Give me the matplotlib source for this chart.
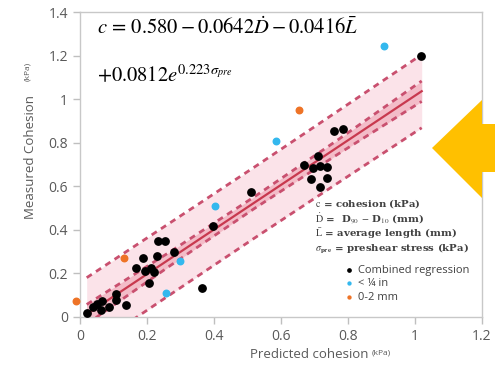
import numpy as np
import matplotlib.pyplot as plt
from matplotlib.patches import Polygon

plt.rcParams["mathtext.fontset"] = "stix"

# Measured vs predicted cohesion (kPa)
black_x = [0.020, 0.040, 0.050, 0.066, 0.063, 0.087, 0.108, 0.108, 0.136,
           0.167, 0.189, 0.194, 0.213, 0.220, 0.206, 0.231, 0.233, 0.253, 0.280,
           0.365, 0.397, 0.511,
           0.670, 0.695, 0.717, 0.737, 0.690, 0.737, 0.715, 0.710, 0.757, 0.784, 1.017]
black_y = [0.020, 0.046, 0.061, 0.074, 0.031, 0.046, 0.077, 0.107, 0.055,
           0.224, 0.273, 0.209, 0.227, 0.205, 0.158, 0.278, 0.347, 0.347, 0.300,
           0.132, 0.419, 0.573,
           0.700, 0.685, 0.695, 0.690, 0.634, 0.639, 0.599, 0.737, 0.852, 0.865, 1.198]
blue_x = [0.256, 0.298, 0.402, 0.584, 0.908]
blue_y = [0.109, 0.255, 0.508, 0.806, 1.245]
orange_x = [-0.012, 0.132, 0.655]
orange_y = [0.074, 0.270, 0.949]

# regression line and band half-widths
fit_intercept = -0.008
fit_slope = 1.024
band_x = [0.02, 0.27, 0.52, 0.77, 1.02]
conf_half = [0.045, 0.032, 0.027, 0.033, 0.047]
pred_half = [0.168, 0.165, 0.163, 0.165, 0.168]

xticks = [0, 0.2, 0.4, 0.6, 0.8, 1, 1.2]
yticks = [0, 0.2, 0.4, 0.6, 0.8, 1, 1.2, 1.4]

fig = plt.figure(figsize=(4.95, 3.67), dpi=100)
ax = fig.add_axes([80 / 495, 1 - 317 / 367, 402 / 495, 305 / 367])

bx = np.array(band_x)
fit = fit_intercept + fit_slope * bx
ci = np.array(conf_half)
pi = np.array(pred_half)

ax.fill_between(bx, fit - pi, fit + pi, color="#FBE3E9", lw=0, zorder=1)
ax.fill_between(bx, fit - ci, fit + ci, color="#F3BCC8", lw=0, zorder=2)
for lo_hi in (fit - pi, fit + pi, fit - ci, fit + ci):
    ax.plot(bx, lo_hi, color="#C9506F", lw=2, ls=(0, (2.2, 1.8)), zorder=3)
ax.plot(bx, fit, color="#C8394F", lw=1.6, zorder=4)

ax.scatter(black_x, black_y, s=28, color="black", zorder=5, label="Combined regression")
ax.scatter(blue_x, blue_y, s=22, color="#33B8EE", zorder=5, label="< ¼ in", clip_on=False)
ax.scatter(orange_x, orange_y, s=22, color="#EE7326", zorder=5, label="0-2 mm", clip_on=False)

ax.set_xlim(0, 1.2)
ax.set_ylim(0, 1.4)
ax.set_xticks(xticks)
ax.set_xticklabels(["0", "0.2", "0.4", "0.6", "0.8", "1", "1.2"])
ax.set_yticks(yticks)
ax.set_yticklabels(["0", "0.2", "0.4", "0.6", "0.8", "1", "1.2", "1.4"])
ax.tick_params(colors="#BFBFBF", labelcolor="#595959", labelsize=10, length=5, width=1)
for lab in ax.get_xticklabels() + ax.get_yticklabels():
    lab.set_family("Open Sans")
for sp in ax.spines.values():
    sp.set_color("#C8C8C8")
    sp.set_linewidth(1)

# axis labels with the smaller unit text
fig.text(368 / 495, 1 - 355 / 367, "Predicted cohesion", ha="right", va="center",
         fontsize=9.5, color="#595959", family="Open Sans")
fig.text(372 / 495, 1 - 353 / 367, "(kPa)", ha="left", va="center",
         fontsize=6, color="#595959", family="Open Sans")
fig.text(30 / 495, 1 - 157 / 367, "Measured Cohesion", ha="center", va="center",
         rotation=90, fontsize=9.5, color="#595959", family="Open Sans")
fig.text(28 / 495, 1 - 71 / 367, "(kPa)", ha="center", va="center",
         rotation=90, fontsize=6, color="#595959", family="Open Sans")

# model equation
ax.text(0.05, 1.33, r"$c\,=\,0.580-0.0642\dot{D}-0.0416\bar{L}$",
        fontsize=14.8, va="center", ha="left", color="black")
ax.text(0.05, 1.11, r"$+0.0812e^{0.223\sigma_{pre}}$",
        fontsize=14.8, va="center", ha="left", color="black")

defs = [r"$\mathrm{c}$ = cohesion (kPa)",
        r"$\dot{\mathrm{D}}$ =  D$_{90}$ $-$ D$_{10}$ (mm)",
        r"$\bar{\mathrm{L}}$ = average length (mm)",
        r"$\sigma_{\mathbf{pre}}$ = preshear stress (kPa)"]
for i, s in enumerate(defs):
    fig.text(315 / 495, 1 - (204 + i * 15) / 367, s, ha="left", va="center",
             fontsize=7.3, color="#404040", family="DejaVu Serif", weight="bold")

leg = ax.legend(loc="lower right", bbox_to_anchor=(0.985, 0.025), frameon=False,
                prop={"family": "Open Sans", "size": 8}, markerscale=0.45,
                handletextpad=0.2, labelspacing=0.22, handlelength=1.2, borderaxespad=0.2)
for t in leg.get_texts():
    t.set_color("#404040")

# big callout arrow on the right
arrow_pts = [(432, 148), (482, 100), (482, 124), (495, 124),
             (495, 172), (482, 172), (482, 198)]
arrow = Polygon([(px / 495, 1 - py / 367) for px, py in arrow_pts], closed=True,
                transform=fig.transFigure, facecolor="#FFC000", edgecolor="none", zorder=10)
fig.add_artist(arrow)

fig.savefig("out.png", dpi=100)
